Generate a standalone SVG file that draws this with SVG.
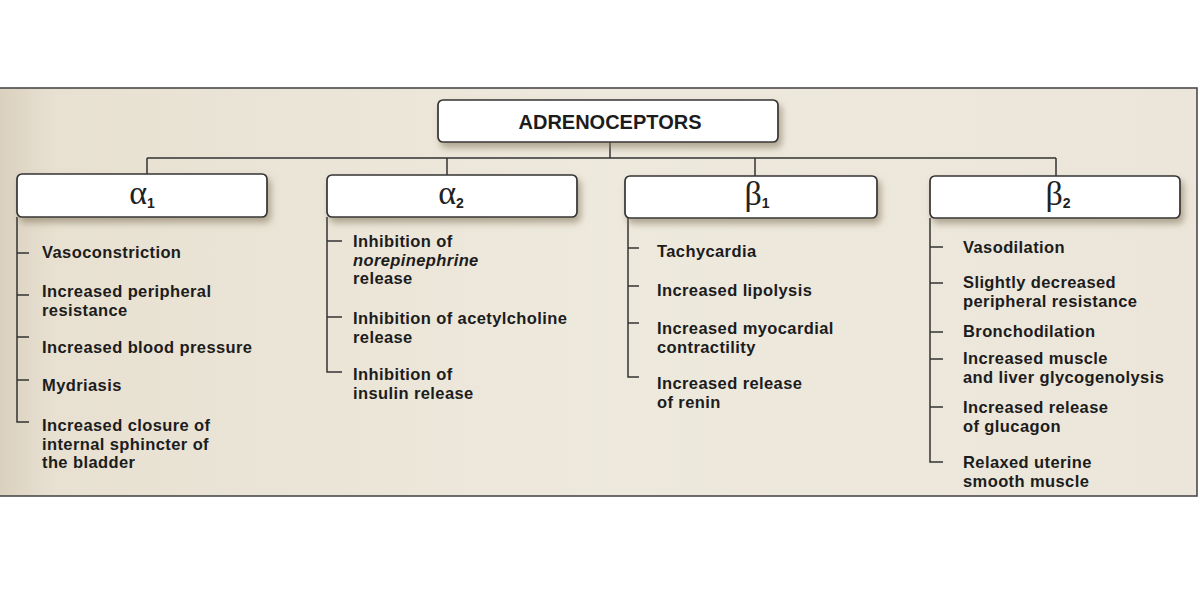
<svg xmlns="http://www.w3.org/2000/svg" width="1200" height="600" viewBox="0 0 1200 600">
<defs>
<linearGradient id="paper" x1="0" y1="0" x2="1" y2="0">
<stop offset="0" stop-color="#d9cfbd"/>
<stop offset="0.05" stop-color="#e8e1d2"/>
<stop offset="0.5" stop-color="#eee9dd"/>
<stop offset="1" stop-color="#ece6da"/>
</linearGradient>
<filter id="sh" x="-10%" y="-30%" width="125%" height="190%">
<feDropShadow dx="3" dy="5" stdDeviation="3.5" flood-color="#84775e" flood-opacity="0.6"/>
</filter>
<style>
.box{fill:#ffffff;stroke:#333333;stroke-width:1.7}
.conn{stroke:#333333;stroke-width:1.5;fill:none}
.item{font-family:"Liberation Sans",Arial,sans-serif;font-weight:700;font-size:16.5px;letter-spacing:0.4px;fill:#1c1c1c}
.title{font-family:"Liberation Sans",Arial,sans-serif;font-weight:700;font-size:20px;fill:#1c1c1c}
.greek{font-family:"Liberation Serif","DejaVu Serif",serif;font-size:34px;fill:#222222}
.sub{font-family:"Liberation Sans",Arial,sans-serif;font-weight:700;font-size:14px}
.it{font-style:italic}
</style>
</defs>
<rect x="0" y="0" width="1200" height="600" fill="#ffffff"/>
<rect x="-5" y="88" width="1202" height="408" fill="url(#paper)" stroke="#4a4a4a" stroke-width="1.6"/>

<g id="connectors">
<path class="conn" d="M610 142V158M147 158H1056M147 158V174M447 158V175M755 158V176M1056 158V176"/>
<path class="conn" d="M17 217V422H29M17 253H29M17 295H29M17 337H29M17 380H29"/>
<path class="conn" d="M327 217V372H342M327 241H342M327 317H342"/>
<path class="conn" d="M628 218V377H639M628 248H639M628 286H639M628 323H639"/>
<path class="conn" d="M930 218V462H943M930 247H943M930 283H943M930 332H943M930 359H943M930 407H943"/>
</g>

<g id="node-root">
<rect class="box" x="438" y="100" width="340" height="42" rx="5" filter="url(#sh)"/>
<text class="title" x="610" y="129" text-anchor="middle">ADRENOCEPTORS</text>
</g>

<g id="node-alpha1">
<rect class="box" x="17" y="174" width="250" height="43" rx="5" filter="url(#sh)"/>
<text class="greek" x="142" y="204" text-anchor="middle">α<tspan class="sub" dy="4">1</tspan></text>
</g>
<g id="node-alpha2">
<rect class="box" x="327" y="175" width="250" height="42" rx="5" filter="url(#sh)"/>
<text class="greek" x="451" y="204" text-anchor="middle">α<tspan class="sub" dy="4">2</tspan></text>
</g>
<g id="node-beta1">
<rect class="box" x="625" y="176" width="252" height="42" rx="5" filter="url(#sh)"/>
<text class="greek" x="757" y="205" text-anchor="middle">β<tspan class="sub" dy="3">1</tspan></text>
</g>
<g id="node-beta2">
<rect class="box" x="930" y="176" width="250" height="42" rx="5" filter="url(#sh)"/>
<text class="greek" x="1058" y="205" text-anchor="middle">β<tspan class="sub" dy="3">2</tspan></text>
</g>

<g id="list-alpha1" class="item">
<text x="42" y="258">Vasoconstriction</text>
<text x="42" y="297">Increased peripheral<tspan x="42" dy="18.6">resistance</tspan></text>
<text x="42" y="353">Increased blood pressure</text>
<text x="42" y="391">Mydriasis</text>
<text x="42" y="431">Increased closure of<tspan x="42" dy="18.6">internal sphincter of</tspan><tspan x="42" dy="18.6">the bladder</tspan></text>
</g>

<g id="list-alpha2" class="item">
<text x="353" y="247">Inhibition of<tspan x="353" dy="18.6" class="it">norepinephrine</tspan><tspan x="353" dy="18.6">release</tspan></text>
<text x="353" y="324">Inhibition of acetylcholine<tspan x="353" dy="18.6">release</tspan></text>
<text x="353" y="380">Inhibition of<tspan x="353" dy="18.6">insulin release</tspan></text>
</g>

<g id="list-beta1" class="item">
<text x="657" y="257">Tachycardia</text>
<text x="657" y="296">Increased lipolysis</text>
<text x="657" y="334">Increased myocardial<tspan x="657" dy="18.6">contractility</tspan></text>
<text x="657" y="389">Increased release<tspan x="657" dy="18.6">of renin</tspan></text>
</g>

<g id="list-beta2" class="item">
<text x="963" y="253">Vasodilation</text>
<text x="963" y="288">Slightly decreased<tspan x="963" dy="19">peripheral resistance</tspan></text>
<text x="963" y="337">Bronchodilation</text>
<text x="963" y="364">Increased muscle<tspan x="963" dy="19">and liver glycogenolysis</tspan></text>
<text x="963" y="413">Increased release<tspan x="963" dy="19">of glucagon</tspan></text>
<text x="963" y="468">Relaxed uterine<tspan x="963" dy="19">smooth muscle</tspan></text>
</g>
</svg>
